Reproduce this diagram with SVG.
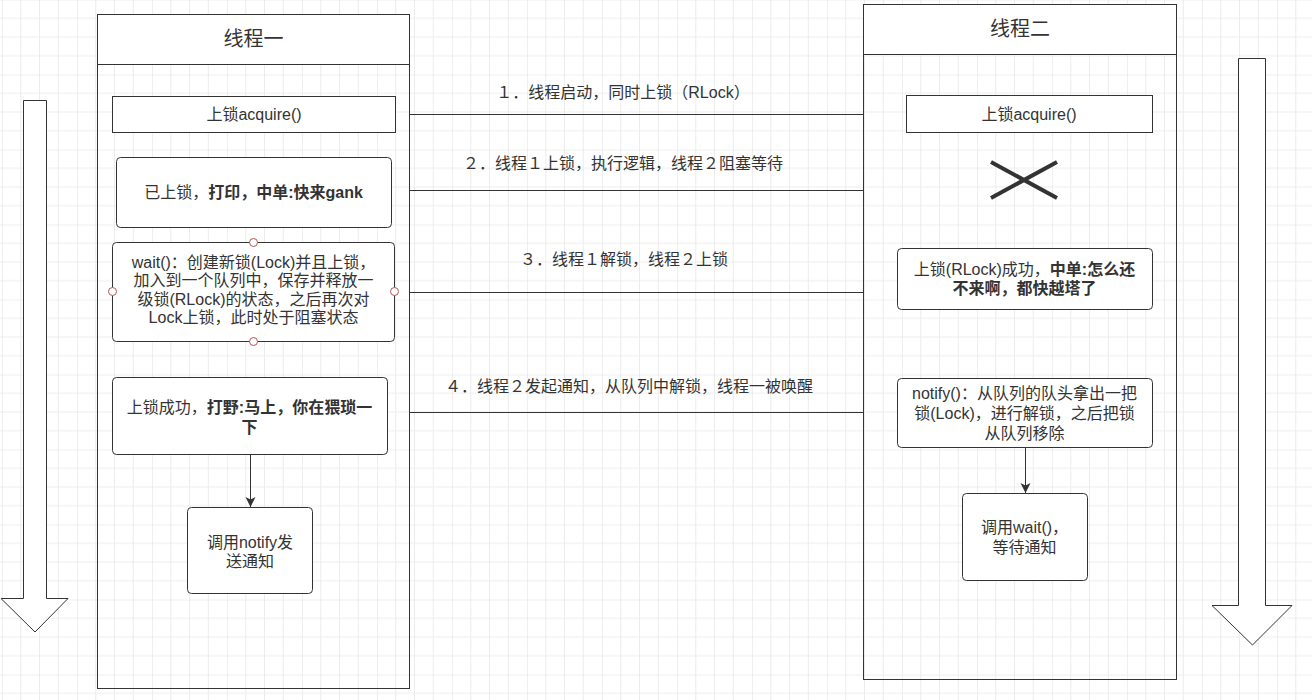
<svg xmlns="http://www.w3.org/2000/svg" width="1312" height="700" viewBox="0 0 1312 700">
<defs>
<pattern id="grid" patternUnits="userSpaceOnUse" x="2" y="-0.5" width="75" height="75">
<path d="M18.75 0V75M37.5 0V75M56.25 0V75M0 18.75H75M0 37.5H75M0 56.25H75" stroke="#ececec" stroke-width="1" fill="none"/>
<path d="M0 0V75M0 0H75" stroke="#e0e0e0" stroke-width="1" fill="none"/>
</pattern>
<marker id="arr" markerUnits="userSpaceOnUse" viewBox="0 0 10 10" markerWidth="10" markerHeight="11" refX="10" refY="5" orient="auto">
<path d="M0 0L10 5L0 10L2.5 5z" fill="#333"/>
</marker>
</defs>
<style>
text{font-family:"Liberation Sans","Noto Sans CJK SC",sans-serif;font-size:16px;fill:#333;text-anchor:middle;dominant-baseline:central}
.t{font-size:20px}
.b{font-weight:bold}
.box{fill:#fff;stroke:#333;stroke-width:1}
.lane{fill:none;stroke:#333;stroke-width:1}
.hdr{fill:#fff;stroke:#333;stroke-width:1}
.edge{fill:none;stroke:#333;stroke-width:1}
.pt{fill:#fff;stroke:#b85450;stroke-width:1}
.big{fill:#fff;stroke:#333;stroke-width:1}
</style>
<rect width="1312" height="700" fill="#fff"/>
<rect width="1312" height="700" fill="url(#grid)"/>

<g id="bigarrow-left"><polygon class="big" points="23.5,100.5 46.5,100.5 46.5,598.5 68,598.5 35,632 1,598.5 23.5,598.5"/></g>
<g id="bigarrow-right"><polygon class="big" points="1238.5,58.5 1265.5,58.5 1265.5,605.5 1292,605.5 1252.5,645 1212,605.5 1238.5,605.5"/></g>

<g id="lane1">
<rect class="lane" x="97.5" y="14.5" width="312" height="674"/>
<rect class="hdr" x="97.5" y="14.5" width="312" height="50"/>
<text class="t" x="253.5" y="39">线程一</text>
</g>
<g id="lane2">
<rect class="lane" x="863.5" y="4.5" width="313" height="675"/>
<rect class="hdr" x="863.5" y="4.5" width="313" height="50"/>
<text class="t" x="1020" y="29">线程二</text>
</g>

<g id="connectors">
<line class="edge" x1="409.5" y1="114.5" x2="863.5" y2="114.5"/>
<line class="edge" x1="409.5" y1="190.5" x2="863.5" y2="190.5"/>
<line class="edge" x1="409.5" y1="292.5" x2="863.5" y2="292.5"/>
<line class="edge" x1="409.5" y1="412.5" x2="863.5" y2="412.5"/>
<text x="623" y="92">１．线程启动，同时上锁（RLock）</text>
<text x="623" y="163">２．线程１上锁，执行逻辑，线程２阻塞等待</text>
<text x="624" y="259">３．线程１解锁，线程２上锁</text>
<text x="629" y="386">４．线程２发起通知，从队列中解锁，线程一被唤醒</text>
<line class="edge" x1="250.5" y1="455" x2="250.5" y2="507" marker-end="url(#arr)"/>
<line class="edge" x1="1025.5" y1="447" x2="1025.5" y2="493" marker-end="url(#arr)"/>
</g>

<g id="l-acquire">
<rect class="box" x="112.5" y="96.5" width="283" height="36"/>
<text x="254" y="114.5">上锁acquire()</text>
</g>
<g id="l-locked">
<rect class="box" x="116.5" y="157.5" width="275" height="70" rx="4"/>
<text x="253.5" y="192">已上锁，<tspan class="b">打印，中单:快来gank</tspan></text>
</g>
<g id="l-wait">
<rect class="box" x="112.5" y="242.5" width="282" height="99" rx="4"/>
<text x="253.5" y="262">wait()：创建新锁(Lock)并且上锁，</text>
<text x="253.5" y="280.5">加入到一个队列中，保存并释放一</text>
<text x="253.5" y="299">级锁(RLock)的状态，之后再次对</text>
<text x="253.5" y="317.5">Lock上锁，此时处于阻塞状态</text>
<circle class="pt" cx="253.5" cy="242.5" r="4"/>
<circle class="pt" cx="253.5" cy="341.5" r="4"/>
<circle class="pt" cx="112.5" cy="291.5" r="4"/>
<circle class="pt" cx="394.5" cy="291.5" r="4"/>
</g>
<g id="l-success">
<rect class="box" x="112.5" y="377.5" width="275" height="77" rx="4"/>
<text x="249.5" y="407">上锁成功，<tspan class="b">打野:马上，你在猥琐一</tspan></text>
<text class="b" x="249.5" y="427">下</text>
</g>
<g id="l-notify">
<rect class="box" x="187.5" y="507.5" width="125" height="86" rx="4"/>
<text x="250" y="542">调用notify发</text>
<text x="250" y="561">送通知</text>
</g>

<g id="r-acquire">
<rect class="box" x="906.5" y="95.5" width="246" height="37"/>
<text x="1029" y="114">上锁acquire()</text>
</g>
<g id="r-block">
<path d="M991 162L1057 198M991 198L1057 162" stroke="#333" stroke-width="4" fill="none"/>
</g>
<g id="r-locked">
<rect class="box" x="897.5" y="248.5" width="255" height="61" rx="4"/>
<text x="1024.5" y="269">上锁(RLock)成功，<tspan class="b">中单:怎么还</tspan></text>
<text class="b" x="1024.5" y="288">不来啊，都快越塔了</text>
</g>
<g id="r-notify">
<rect class="box" x="897.5" y="378.5" width="255" height="69" rx="4"/>
<text x="1024.5" y="393">notify()：从队列的队头拿出一把</text>
<text x="1024.5" y="413">锁(Lock)，进行解锁，之后把锁</text>
<text x="1024.5" y="433">从队列移除</text>
</g>
<g id="r-wait">
<rect class="box" x="962.5" y="493.5" width="125" height="87" rx="4"/>
<text x="1024.5" y="527">调用wait()，</text>
<text x="1024.5" y="547">等待通知</text>
</g>
</svg>
